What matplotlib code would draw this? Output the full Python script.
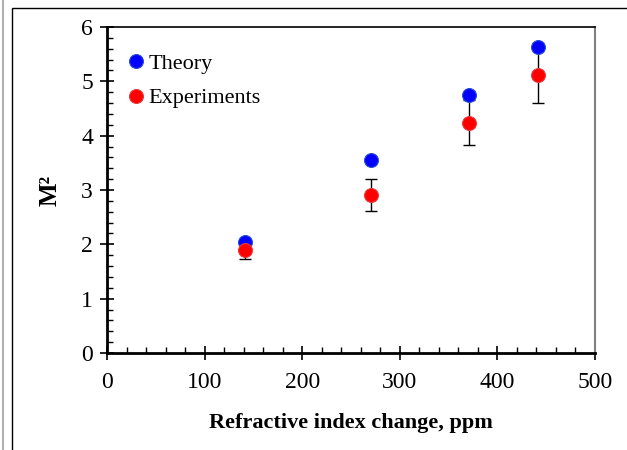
import matplotlib
matplotlib.use("Agg")
import matplotlib.pyplot as plt
from matplotlib.lines import Line2D
from matplotlib.patches import Rectangle
from matplotlib.ticker import MultipleLocator

plt.rcParams['font.family'] = ['Liberation Serif', 'DejaVu Serif']

x_ppm = [141, 271, 371, 442]
theory = [2.04, 3.55, 4.75, 5.63]
experiments = [1.90, 2.91, 4.24, 5.12]
exp_err = [0.17, 0.30, 0.42, 0.51]

fig = plt.figure(figsize=(6.27, 4.5), dpi=100)
ax = fig.add_axes([107/627, 1-353/450, (595-107)/627, (353-27)/450])

ax.errorbar(x_ppm, experiments, yerr=exp_err, fmt='none', ecolor='black',
            elinewidth=1, capsize=4, capthick=1, zorder=2)
ax.plot(x_ppm, theory, 'o', color='#0000ff', markeredgecolor='#2a4fd8',
        markeredgewidth=0.8, markersize=10, zorder=3, label='Theory')
ax.plot(x_ppm, experiments, 'o', color='#ff0000', markeredgecolor='#e83a3a',
        markeredgewidth=0.8, markersize=10, zorder=4, label='Experiments')

ax.set_xlim(0, 500)
ax.set_ylim(0, 6)
ax.xaxis.set_major_locator(MultipleLocator(100))
ax.xaxis.set_minor_locator(MultipleLocator(20))
ax.yaxis.set_major_locator(MultipleLocator(1))
ax.yaxis.set_minor_locator(MultipleLocator(0.2))
ax.tick_params(which='major', direction='inout', length=10, width=1.2,
               labelsize=17, top=False, right=False)
ax.tick_params(axis='x', which='major', pad=9)
ax.tick_params(axis='y', which='major', pad=5)
ax.tick_params(which='minor', direction='in', length=4, width=1,
               top=False, right=False)

ax.spines['left'].set_linewidth(2)
ax.spines['bottom'].set_linewidth(2)
ax.spines['top'].set_linewidth(1.2)
ax.spines['right'].set_color('#808080')
ax.spines['right'].set_linewidth(1.5)

ax.set_xlabel('Refractive index change, ppm', fontsize=16, fontweight='bold', labelpad=14)
ax.set_ylabel('M²', fontsize=18, fontweight='bold', labelpad=14)

ax.legend(loc='upper left', frameon=False, fontsize=16, handletextpad=-0.2,
          borderaxespad=0.3, labelspacing=0.64, handlelength=1.5,
          bbox_to_anchor=(-0.006, 0.968))

fig.add_artist(Line2D([2.5/627, 2.5/627], [0, 1], color='#b0b0b0', lw=1.5,
                      transform=fig.transFigure))
fig.add_artist(Rectangle((12/627, -0.1), 1.0, 1 - 8/450 + 0.1, fill=False,
                         edgecolor='black', lw=1, transform=fig.transFigure))

fig.savefig('out.png', dpi=100)
